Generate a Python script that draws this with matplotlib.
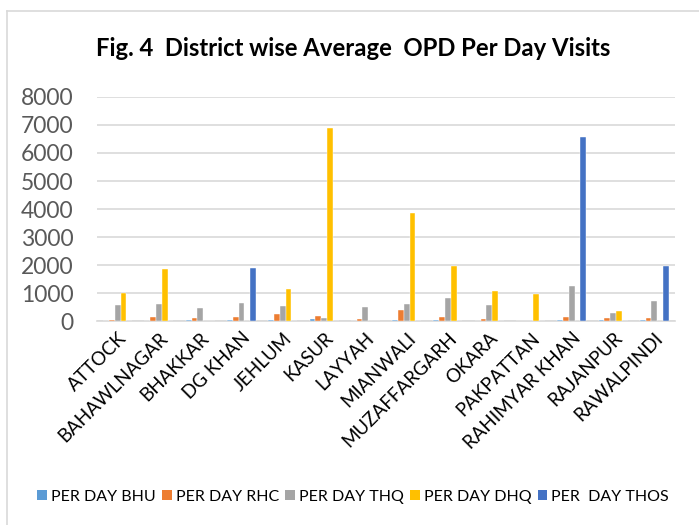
import matplotlib
matplotlib.use("Agg")
import matplotlib.pyplot as plt
from matplotlib.lines import Line2D
from matplotlib.patches import Patch
import numpy as np

# ── data ───────────────────────────────────────────────────────────────────
districts = ["ATTOCK", "BAHAWLNAGAR", "BHAKKAR", "DG KHAN", "JEHLUM", "KASUR",
             "LAYYAH", "MIANWALI", "MUZAFFARGARH", "OKARA", "PAKPATTAN",
             "RAHIMYAR KHAN", "RAJANPUR", "RAWALPINDI"]
bhu  = [0, 0, 40, 35, 35, 55, 0, 30, 30, 0, 0, 30, 30, 40]
rhc  = [25, 130, 108, 157, 250, 180, 85, 410, 155, 85, 0, 155, 120, 110]
thq  = [565, 610, 480, 635, 550, 95, 505, 590, 805, 565, 0, 1250, 290, 700]
dhq  = [985, 1870, 0, 0, 1130, 6880, 0, 3860, 1960, 1070, 950, 0, 360, 0]
thos = [0, 0, 0, 1900, 0, 0, 0, 0, 0, 0, 0, 6570, 0, 1950]
series_names = ["PER DAY BHU", "PER DAY RHC", "PER DAY THQ", "PER DAY DHQ",
                "PER  DAY THOS"]

# ── colours ────────────────────────────────────────────────────────────────
COLORS = ["#5B9BD5", "#ED7D31", "#A5A5A5", "#FFC000", "#4472C4"]
C_GRID = "#D9D9D9"
C_TICK = "#595959"

plt.rcParams["font.family"] = ["Lato", "DejaVu Sans"]

fig = plt.figure(figsize=(6.99, 5.25), dpi=100)
ax = fig.add_axes([97 / 699, 1 - 321 / 525, 578 / 699, 224 / 525])

x = np.arange(len(districts))
w = 0.14
for i, (vals, col) in enumerate(zip([bhu, rhc, thq, dhq, thos], COLORS)):
    ax.bar(x + (i - 2) * w, vals, width=w, color=col,
           edgecolor="white", linewidth=0.3, zorder=3)

ax.set_xlim(-0.5, len(districts) - 0.5)
ax.set_ylim(0, 8000)
ax.set_yticks(range(0, 8001, 1000))
ax.yaxis.grid(True, color=C_GRID, lw=1.2, zorder=0)
ax.set_axisbelow(True)
for s in ["top", "right", "left"]:
    ax.spines[s].set_visible(False)
ax.spines["bottom"].set_color(C_GRID)
ax.spines["bottom"].set_linewidth(1.2)
ax.tick_params(axis="both", length=0)
ax.tick_params(axis="y", labelsize=16.5, labelcolor=C_TICK, pad=17)
ax.set_xticks(x)
ax.set_xticklabels(districts, rotation=45, ha="right",
                   rotation_mode="anchor", fontsize=13.5, color="black")
ax.tick_params(axis="x", pad=6)

fig.text(353 / 699, 1 - 48 / 525,
         "Fig. 4  District wise Average  OPD Per Day Visits",
         ha="center", va="center", fontsize=17.2, fontweight="bold")

handles = [Patch(facecolor=c, edgecolor="none") for c in COLORS]
fig.legend(handles, series_names, loc="center", ncol=5,
           bbox_to_anchor=(353 / 699, 1 - 497 / 525), frameon=False,
           fontsize=11.5, handlelength=0.6, handleheight=0.6,
           handletextpad=0.25, columnspacing=0.4)

# outer chart border (left + top visible)
fig.add_artist(Line2D([7 / 699, 7 / 699], [0, 1 - 11 / 525],
                      transform=fig.transFigure, color=C_GRID, lw=1.2))
fig.add_artist(Line2D([7 / 699, 1], [1 - 11 / 525, 1 - 11 / 525],
                      transform=fig.transFigure, color=C_GRID, lw=1.2))

fig.savefig("out.png", dpi=100)
